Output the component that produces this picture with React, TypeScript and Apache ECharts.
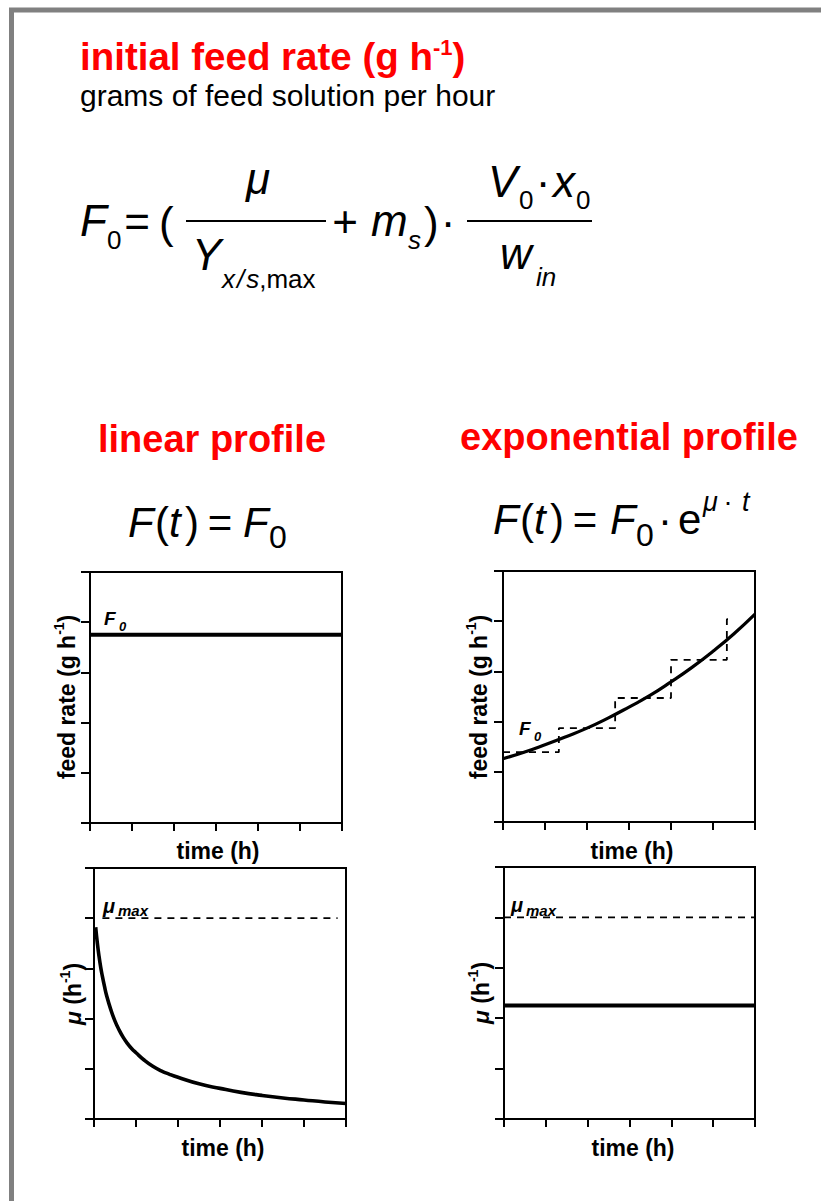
import React, { useEffect, useRef } from 'react';
import * as echarts from 'echarts';

// ---------- data ----------
const timeTicks = [0, 1, 2, 3, 4, 5, 6];
const yTicks = [0, 1, 2, 3, 4, 5];

const linFeedTime = [0, 6];
const linFeedValue = [3.75, 3.75];

const expFeedTime = [0, 0.5, 1, 1.5, 2, 2.5, 3, 3.5, 4, 4.5, 5, 5.5, 6];
const expFeedValue = [1.26, 1.39, 1.54, 1.7, 1.87, 2.07, 2.29, 2.52, 2.79, 3.08, 3.4, 3.75, 4.14];

const expStepTime = [0, 1.33, 2.67, 4.0, 5.33, 5.48];
const expStepValue = [1.39, 1.87, 2.47, 3.23, 4.04, 4.04];

const muLinTime = [0.04, 0.08, 0.12, 0.16, 0.2, 0.25, 0.3, 0.4, 0.5, 0.6, 0.7, 0.8, 0.9, 1.0, 1.2, 1.4, 1.6, 1.8, 2.0, 2.5, 3.0, 3.5, 4.0, 4.5, 5.0, 5.5, 6.0];
const muLinValue = [3.82, 3.5, 3.24, 3.02, 2.84, 2.64, 2.46, 2.18, 1.95, 1.77, 1.62, 1.5, 1.4, 1.32, 1.17, 1.05, 0.96, 0.89, 0.83, 0.7, 0.61, 0.53, 0.47, 0.42, 0.38, 0.34, 0.31];

const muMaxLinTime = [0.2, 5.8];
const muMaxExpTime = [0, 6];
const muMax = 4;

const muExpTime = [0, 6];
const muExpValue = [2.25, 2.25];

// ---------- helpers ----------
const FF = '"Liberation Sans", Arial, Helvetica, sans-serif';
const RED = '#ff0000';

type P = { t: string; s: number; b?: boolean; i?: boolean; dy?: number; x?: number; B?: number; align?: 'left' | 'center'; c?: string; gap?: number };

let ctx: CanvasRenderingContext2D | null = null;
function fontOf(p: P) {
  return `${p.i ? 'italic ' : ''}${p.b ? 'bold ' : ''}${p.s}px ${FF}`;
}
function width(p: P) {
  if (!ctx) ctx = document.createElement('canvas').getContext('2d');
  ctx!.font = fontOf(p);
  return ctx!.measureText(p.t).width;
}
function textEl(p: P, x: number, B: number, color: string, align: 'left' | 'center' = 'left') {
  return {
    type: 'text',
    x,
    y: B - 0.3465 * p.s,
    silent: true,
    style: {
      text: p.t,
      font: fontOf(p),
      fontFamily: FF,
      fontSize: p.s,
      fontWeight: p.b ? 'bold' : 'normal',
      fontStyle: p.i ? 'italic' : 'normal',
      fill: color,
      align,
      textAlign: align,
      verticalAlign: 'middle',
      textVerticalAlign: 'middle',
    },
  };
}
function seq(pieces: P[], x: number, B: number, align: 'left' | 'center', color = '#000') {
  const ws = pieces.map((p) => width(p) + (p.gap || 0));
  const total = ws.reduce((a, b) => a + b, 0);
  let cx = align === 'center' ? x - total / 2 : x;
  const out: any[] = [];
  pieces.forEach((p, k) => {
    out.push(textEl(p, cx, B + (p.dy || 0), p.c || color));
    cx += ws[k];
  });
  return out;
}
function abs(pieces: P[], color = '#000') {
  return pieces.map((p) => textEl(p, p.x!, p.B!, p.c || color, p.align || 'left'));
}
function rotLabel(pieces: P[], bx: number, cy: number) {
  return { type: 'group', x: bx, y: cy, rotation: Math.PI / 2, silent: true, children: seq(pieces, 0, 0, 'center') };
}
function hline(x1: number, x2: number, y: number, w = 1.8) {
  return { type: 'line', silent: true, shape: { x1, y1: y, x2, y2: y }, style: { stroke: '#000', lineWidth: w } };
}
const zip = (a: number[], b: number[]) => a.map((v, k) => [v, b[k]]);

const grids = [
  { left: 90, top: 572, width: 252, height: 251 },
  { left: 503, top: 571, width: 252, height: 251 },
  { left: 94, top: 868, width: 252, height: 251 },
  { left: 504, top: 867, width: 251, height: 252 },
];

function xAx(i: number) {
  return {
    type: 'value', gridIndex: i, min: timeTicks[0], max: timeTicks[timeTicks.length - 1], interval: 1,
    axisLine: { show: true, onZero: false, lineStyle: { color: '#000', width: 2 } },
    axisTick: { show: true, inside: false, length: 8, lineStyle: { color: '#000', width: 2 } },
    axisLabel: { show: false }, splitLine: { show: false },
  };
}
function yAx(i: number) {
  return {
    type: 'value', gridIndex: i, min: yTicks[0], max: yTicks[yTicks.length - 1], interval: 1,
    axisLine: { show: true, onZero: false, lineStyle: { color: '#000', width: 2 } },
    axisTick: { show: true, inside: false, length: 9, lineStyle: { color: '#000', width: 2 } },
    axisLabel: { show: false }, splitLine: { show: false },
  };
}

export default function App() {
  const ref = useRef<HTMLDivElement>(null);
  useEffect(() => {
    const chart = echarts.init(ref.current!, null, { renderer: 'svg' });
    const dash = { color: '#000', width: 1.8, type: [7, 6] as any };
    const yLabelFeed: P[] = [{ t: 'feed rate (g h', s: 23, b: true }, { t: '-1', s: 14, b: true, dy: -11 }, { t: ')', s: 23, b: true }];
    const yLabelMu: P[] = [{ t: 'μ', s: 23, b: true, i: true }, { t: ' (h', s: 23, b: true }, { t: '-1', s: 14, b: true, dy: -11 }, { t: ')', s: 23, b: true }];
    const timeLabel: P[] = [{ t: 'time (h)', s: 23, b: true }];

    const graphic: any[] = [
      { type: 'rect', silent: true, shape: { x: 11.5, y: 10, width: 900, height: 1300 }, style: { fill: 'none', stroke: '#808080', lineWidth: 5 } },
      // title
      ...seq([{ t: 'initial feed rate (g h', s: 38.5, b: true }, { t: '-1', s: 22, b: true, dy: -15 }, { t: ')', s: 38.5, b: true }], 80, 70, 'left', RED),
      ...seq([{ t: 'grams of feed solution per hour', s: 30 }], 80, 106, 'left'),
      // main formula
      ...abs([
        { t: 'F', x: 80, B: 236, s: 44, i: true },
        { t: '0', x: 107, B: 249, s: 26 },
        { t: '=', x: 137, B: 237, s: 44, align: 'center' },
        { t: '(', x: 159, B: 238, s: 44 },
        { t: 'μ', x: 258, B: 194, s: 44, i: true, align: 'center' },
        { t: 'Y', x: 192, B: 270, s: 44, i: true },
        { t: '+', x: 345, B: 237, s: 44, align: 'center' },
        { t: 'm', x: 371, B: 236, s: 44, i: true },
        { t: 's', x: 408, B: 249, s: 26, i: true },
        { t: ')', x: 424, B: 238, s: 44 },
        { t: '·', x: 448, B: 237, s: 44, align: 'center' },
        { t: 'V', x: 488, B: 197, s: 44, i: true },
        { t: '0', x: 519, B: 209, s: 26 },
        { t: '·', x: 543, B: 197, s: 44, align: 'center' },
        { t: 'x', x: 553, B: 197, s: 44, i: true },
        { t: '0', x: 576, B: 209, s: 26 },
        { t: 'w', x: 500, B: 269, s: 44, i: true },
        { t: 'in', x: 536, B: 286, s: 26, i: true },
      ]),
      ...seq([{ t: 'x', s: 26, i: true, gap: 2 }, { t: '/', s: 26, i: true, gap: 2 }, { t: 's', s: 26, i: true }, { t: ',max', s: 26 }], 222, 288, 'left'),
      hline(186, 326, 221),
      hline(467, 592, 221),
      // headings
      ...seq([{ t: 'linear profile', s: 38, b: true }], 212, 452, 'center', RED),
      ...seq([{ t: 'exponential profile', s: 38, b: true }], 629, 450, 'center', RED),
      // F(t) formulas
      ...abs([
        { t: 'F', x: 128, B: 537, s: 42, i: true },
        { t: '(', x: 155, B: 537, s: 42 },
        { t: 't', x: 169, B: 537, s: 42, i: true },
        { t: ')', x: 185, B: 537, s: 42 },
        { t: '=', x: 220, B: 537, s: 42, align: 'center' },
        { t: 'F', x: 243, B: 537, s: 42, i: true },
        { t: '0', x: 269, B: 548, s: 32 },
        { t: 'F', x: 493, B: 534, s: 42, i: true },
        { t: '(', x: 520, B: 534, s: 42 },
        { t: 't', x: 534, B: 534, s: 42, i: true },
        { t: ')', x: 550, B: 534, s: 42 },
        { t: '=', x: 585, B: 534, s: 42, align: 'center' },
        { t: 'F', x: 610, B: 534, s: 42, i: true },
        { t: '0', x: 636, B: 546, s: 32 },
        { t: '·', x: 665, B: 534, s: 42, align: 'center' },
        { t: 'e', x: 678, B: 534, s: 42 },
        { t: 'μ', x: 703, B: 511, s: 27, i: true },
        { t: '·', x: 728, B: 511, s: 27, align: 'center' },
        { t: 't', x: 742, B: 511, s: 27, i: true },
      ]),
      // in-chart labels
      ...abs([
        { t: 'F', x: 104, B: 625, s: 19, b: true, i: true },
        { t: '0', x: 119, B: 631, s: 13, b: true, i: true },
        { t: 'F', x: 519, B: 735, s: 19, b: true, i: true },
        { t: '0', x: 534, B: 741, s: 13, b: true, i: true },
        { t: 'μ', x: 103, B: 913, s: 20, b: true, i: true },
        { t: 'max', x: 118, B: 916, s: 15, b: true, i: true },
        { t: 'μ', x: 511, B: 912, s: 20, b: true, i: true },
        { t: 'max', x: 526, B: 916, s: 15, b: true, i: true },
      ]),
      // axis titles
      ...seq(timeLabel, 218, 859, 'center'),
      ...seq(timeLabel, 632, 859, 'center'),
      ...seq(timeLabel, 223, 1156, 'center'),
      ...seq(timeLabel, 633, 1156, 'center'),
      rotLabel(yLabelFeed, 75, 697),
      rotLabel(yLabelFeed, 487, 697),
      rotLabel(yLabelMu, 81, 994),
      rotLabel(yLabelMu, 489, 993),
    ];

    const option: any = {
      animation: false,
      backgroundColor: '#fff',
      grid: grids.map((g) => ({ ...g, show: true, borderColor: '#000', borderWidth: 2, backgroundColor: 'transparent', containLabel: false })),
      xAxis: [0, 1, 2, 3].map(xAx),
      yAxis: [0, 1, 2, 3].map(yAx),
      series: [
        { name: 'F linear', type: 'line', xAxisIndex: 0, yAxisIndex: 0, data: zip(linFeedTime, linFeedValue), symbol: 'none', lineStyle: { color: '#000', width: 4 } },
        { name: 'F exponential', type: 'line', xAxisIndex: 1, yAxisIndex: 1, data: zip(expFeedTime, expFeedValue), smooth: true, symbol: 'none', lineStyle: { color: '#000', width: 3.2 } },
        { name: 'F stepwise', type: 'line', xAxisIndex: 1, yAxisIndex: 1, data: zip(expStepTime, expStepValue), step: 'end', symbol: 'none', lineStyle: dash },
        { name: 'mu linear', type: 'line', xAxisIndex: 2, yAxisIndex: 2, data: zip(muLinTime, muLinValue), smooth: true, symbol: 'none', lineStyle: { color: '#000', width: 3.6 } },
        { name: 'mu max linear', type: 'line', xAxisIndex: 2, yAxisIndex: 2, data: muMaxLinTime.map((t) => [t, muMax]), symbol: 'none', lineStyle: dash },
        { name: 'mu exponential', type: 'line', xAxisIndex: 3, yAxisIndex: 3, data: zip(muExpTime, muExpValue), symbol: 'none', lineStyle: { color: '#000', width: 4 } },
        { name: 'mu max exp', type: 'line', xAxisIndex: 3, yAxisIndex: 3, data: muMaxExpTime.map((t) => [t, muMax]), symbol: 'none', lineStyle: dash },
      ],
      graphic,
    };
    chart.setOption(option);
    return () => chart.dispose();
  }, []);
  return <div ref={ref} style={{ position: 'absolute', left: 0, top: 0, width: 821, height: 1201, background: '#fff' }} />;
}
